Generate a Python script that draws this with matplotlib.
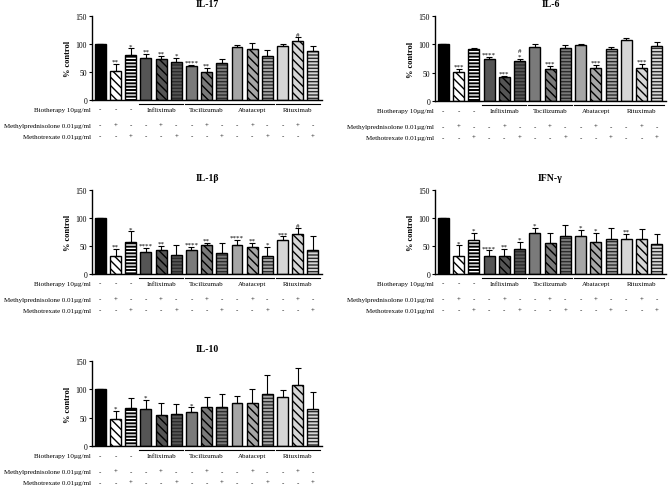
import matplotlib
matplotlib.use("Agg")
import matplotlib.pyplot as plt
import matplotlib.transforms as mtransforms
import numpy as np

plt.rcParams['font.family'] = ['Liberation Serif', 'DejaVu Serif']
plt.rcParams['hatch.linewidth'] = 1.0

# ---- data ----
biotherapies = ["Infliximab", "Tocilizumab", "Abatacept", "Rituximab"]
row_labels = ["Biotherapy 10\u00b5g/ml", "Methylprednisolone 0.01\u00b5g/ml", "Methotrexate 0.01\u00b5g/ml"]
mp_signs = ["-", "+", "-", "-", "+", "-", "-", "+", "-", "-", "+", "-", "-", "+", "-"]
mtx_signs = ["-", "-", "+", "-", "-", "+", "-", "-", "+", "-", "-", "+", "-", "-", "+"]

il17_mean = [100, 52, 80, 75, 73, 67, 61, 50, 66, 94, 91, 79, 96, 106, 87]
il17_err = [0, 12, 12, 7, 5, 8, 2, 7, 7, 5, 10, 11, 4, 6, 9]
il17_sig = ["", "**", "*", "**", "**", "*", "****", "**", "", "", "", "", "", "#", ""]

il6_mean = [100, 52, 91, 74, 42, 71, 95, 56, 93, 98, 59, 92, 107, 58, 97]
il6_err = [0, 4, 2, 3, 3, 3, 5, 5, 5, 3, 4, 3, 5, 7, 7]
il6_sig = ["", "***", "", "****", "***", "#\n*", "", "***", "", "", "***", "", "", "***", ""]

il1b_mean = [100, 33, 57, 39, 43, 34, 43, 51, 37, 52, 49, 32, 60, 71, 42]
il1b_err = [0, 12, 19, 7, 7, 18, 6, 4, 19, 8, 6, 16, 7, 11, 25]
il1b_sig = ["", "**", "*", "****", "**", "", "****", "**", "", "****", "**", "*", "***", "#", ""]

ifng_mean = [100, 32, 60, 33, 33, 44, 73, 56, 67, 67, 58, 63, 63, 62, 54]
ifng_err = [0, 19, 14, 9, 11, 13, 10, 18, 21, 12, 16, 20, 8, 18, 17]
ifng_sig = ["", "*", "*", "****", "**", "*", "*", "", "", "*", "*", "", "**", "", ""]

il10_mean = [100, 48, 67, 66, 54, 57, 60, 69, 69, 76, 76, 91, 86, 108, 66]
il10_err = [0, 13, 17, 15, 22, 18, 8, 17, 22, 13, 25, 34, 12, 30, 30]
il10_sig = ["", "*", "", "*", "", "", "*", "", "", "", "", "", "", "", ""]

# ---- bar styles (fill, hatch, hatch colour) ----
greys = ["#555555", "#7a7a7a", "#a6a6a6", "#d6d6d6"]
diag = "\\\\\\\\"
horiz = "-----"
styles = [("black", None, None), ("white", diag, "black"), ("black", horiz, "white")]
for g in greys:
    styles += [(g, None, None), (g, diag, "black"), (g, horiz, "#2b2b2b")]

W, H = 669, 489
FS = 5.0  # table font size


def panel(rect_px, title, mean, err, sig):
    x0, y0, x1, y1 = rect_px
    ax = plt.gcf().add_axes([x0 / W, 1 - y1 / H, (x1 - x0) / W, (y1 - y0) / H])
    x = np.arange(len(mean))
    bw = 0.72
    for i, (fc, h, hc) in enumerate(styles):
        ax.bar(x[i], mean[i], bw, color=fc, edgecolor="none", lw=0, zorder=2)
        if h:
            ax.bar(x[i], mean[i], bw, color="none", edgecolor=hc, hatch=h, lw=0, zorder=3)
    ax.bar(x, mean, bw, fill=False, edgecolor="black", lw=1.0, zorder=4)
    ax.errorbar(x, mean, yerr=[np.zeros(len(err)), err], fmt="none", ecolor="black",
                elinewidth=0.8, capsize=2.2, capthick=0.8, zorder=5)
    for i, s in enumerate(sig):
        if s:
            ax.text(x[i], mean[i] + err[i] + 0.5, s, ha="center", va="bottom",
                    fontsize=5, linespacing=1.1, zorder=6)

    ax.set_xlim(-0.55, 14.6)
    ax.set_ylim(0, 150)
    ax.set_yticks([0, 50, 100, 150])
    ax.set_xticks([])
    ax.tick_params(axis="y", labelsize=5.5, length=2.5, width=0.8, pad=1)
    for sp in ("top", "right"):
        ax.spines[sp].set_visible(False)
    ax.spines["left"].set_linewidth(1.0)
    ax.spines["bottom"].set_linewidth(1.0)
    ax.set_ylabel("% control", fontsize=6, fontweight="bold", labelpad=3)
    ax.set_title(title, fontsize=7, fontweight="bold", pad=7)

    # treatment table under the axis
    tr = mtransforms.blended_transform_factory(ax.transData, ax.transAxes)
    ys = [-0.11, -0.30, -0.43]
    for lab, yy in zip(row_labels, ys):
        ax.text(-0.005, yy, lab, transform=ax.transAxes, ha="right", va="center", fontsize=FS)
    for i in range(3):
        ax.text(x[i], ys[0], "-", transform=tr, ha="center", va="center", fontsize=FS)
    for k, name in enumerate(biotherapies):
        a, b = 3 + 3 * k, 5 + 3 * k
        ax.plot([a - 0.45, b + 0.45], [-0.05, -0.05], transform=tr, color="black",
                lw=0.8, clip_on=False)
        ax.text((a + b) / 2, ys[0], name, transform=tr, ha="center", va="center", fontsize=FS)
    for i in range(len(mean)):
        ax.text(x[i], ys[1], mp_signs[i], transform=tr, ha="center", va="center", fontsize=FS)
        ax.text(x[i], ys[2], mtx_signs[i], transform=tr, ha="center", va="center", fontsize=FS)
    return ax


fig = plt.figure(figsize=(W / 100, H / 100), dpi=100)
panel((92, 17, 322, 101), "IL-17", il17_mean, il17_err, il17_sig)
panel((435, 17, 666, 102), "IL-6", il6_mean, il6_err, il6_sig)
panel((92, 191, 322, 275), "IL-1\u03b2", il1b_mean, il1b_err, il1b_sig)
panel((435, 191, 666, 275), "IFN-\u03b3", ifng_mean, ifng_err, ifng_sig)
panel((92, 362, 322, 447), "IL-10", il10_mean, il10_err, il10_sig)

fig.savefig("out.png", dpi=100)
